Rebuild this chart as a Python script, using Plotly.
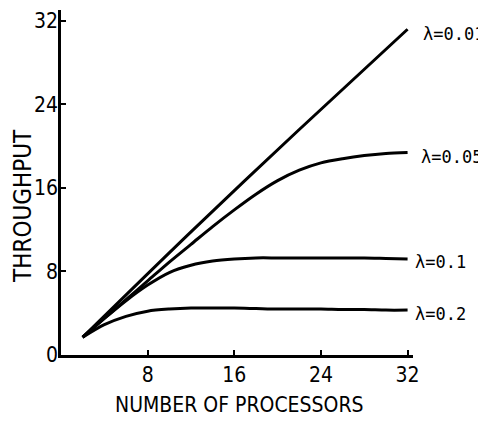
import plotly.graph_objects as go

processors = [2, 4, 6, 8, 10, 12, 14, 16, 18, 20, 22, 24, 26, 28, 30, 32]
processors_001 = [2, 12, 22, 32]
thr_001 = [1.7, 11.8, 21.6, 31.2]
thr_005 = [1.7, 3.5, 5.3, 7.1, 8.9, 10.6, 12.3, 13.9, 15.4, 16.7, 17.7, 18.4, 18.8, 19.1, 19.3, 19.4]
thr_01 = [1.7, 3.5, 5.2, 6.7, 7.9, 8.6, 9.0, 9.2, 9.3, 9.3, 9.3, 9.3, 9.3, 9.3, 9.25, 9.2]
thr_02 = [1.7, 2.9, 3.7, 4.2, 4.4, 4.5, 4.5, 4.5, 4.45, 4.4, 4.4, 4.4, 4.35, 4.35, 4.3, 4.3]
series_names = ["λ=0.01", "λ=0.05", "λ=0.1", "λ=0.2"]
series_x = [processors_001, processors, processors, processors]
series_values = [thr_001, thr_005, thr_01, thr_02]
x_ticks = [8, 16, 24, 32]
y_ticks = [0, 8, 16, 24, 32]

label_font = "DejaVu Sans Condensed, Liberation Sans Narrow, DejaVu Sans, sans-serif"

fig = go.Figure()
for name, xs_, vals in zip(series_names, series_x, series_values):
    fig.add_trace(go.Scatter(
        x=xs_, y=vals, mode="lines", name=name,
        line=dict(color="black", width=3, shape="spline", smoothing=0.8),
        showlegend=False, hoverinfo="skip",
    ))

shifts = [(13, -5), (11, -5), (5, -3), (5, -4)]
for name, xs_, vals, (xs, ys) in zip(series_names, series_x, series_values, shifts):
    fig.add_annotation(
        x=xs_[-1], y=vals[-1], xref="x", yref="y", text=name,
        showarrow=False, xanchor="left", yanchor="middle", xshift=xs, yshift=ys,
        font=dict(family="DejaVu Sans Mono, Liberation Mono, monospace", size=17, color="black"),
    )

# the page body has an 8px margin, so figure pixel = window pixel - 8
W, H = 478, 417
ml, mr, mt, mb = 53, 73, 2, 70
pw, ph = W - ml - mr, H - mt - mb

def paper_x(px):
    return (px - 8 - ml) / pw

def paper_y(py):
    return (H - mb - (py - 8)) / ph

fig.add_annotation(
    x=paper_x(23), y=paper_y(206), xref="paper", yref="paper", text="THROUGHPUT",
    showarrow=False, textangle=-90, xanchor="center", yanchor="middle",
    font=dict(family=label_font, size=24, color="black"),
)
fig.add_annotation(
    x=paper_x(239), y=paper_y(405), xref="paper", yref="paper", text="NUMBER OF PROCESSORS",
    showarrow=False, xanchor="center", yanchor="middle",
    font=dict(family=label_font, size=21, color="black"),
)

fig.update_layout(
    width=W, height=H,
    margin=dict(l=ml, r=mr, t=mt, b=mb, pad=0),
    plot_bgcolor="white", paper_bgcolor="white",
    xaxis=dict(
        range=[0, 32.5], tickvals=x_ticks, ticktext=[str(v) for v in x_ticks],
        showline=True, linecolor="black", linewidth=2.5, mirror=False,
        ticks="inside", ticklen=5, tickwidth=2, tickcolor="black",
        showgrid=False, zeroline=False, ticklabelstandoff=-1, automargin=False,
        ticklabeloverflow="allow",
        tickfont=dict(family=label_font, size=21, color="black"),
    ),
    yaxis=dict(
        range=[0, 345 / 10.44], tickvals=y_ticks, ticktext=[str(v) for v in y_ticks],
        showline=True, linecolor="black", linewidth=2.5, mirror=False,
        ticks="inside", ticklen=5, tickwidth=2, tickcolor="black",
        showgrid=False, zeroline=False, ticklabelstandoff=-4, automargin=False,
        ticklabeloverflow="allow",
        tickfont=dict(family=label_font, size=21, color="black"),
    ),
)

fig.write_html("out.html")
